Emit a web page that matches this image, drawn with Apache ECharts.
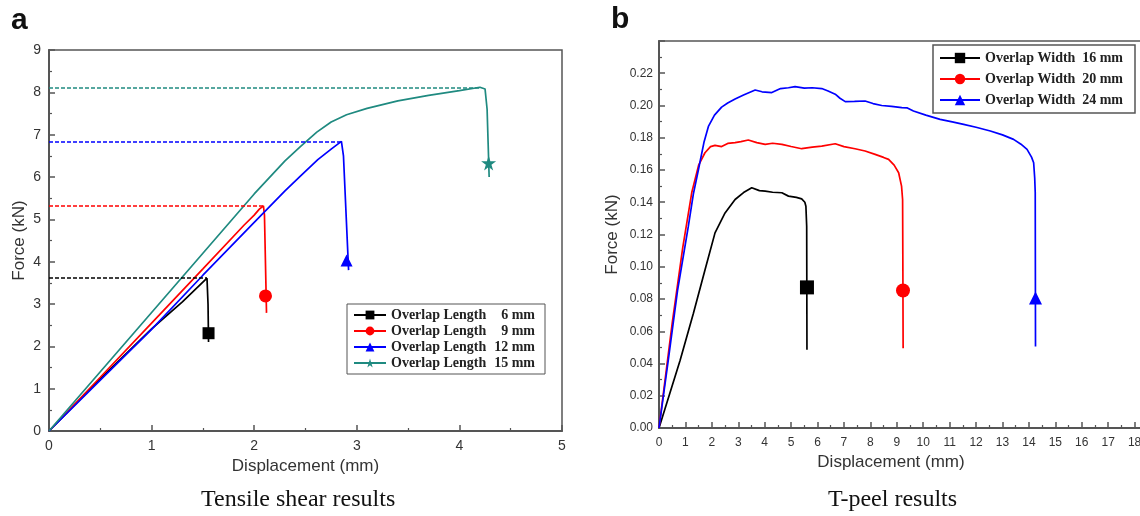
<!DOCTYPE html>
<html>
<head>
<meta charset="utf-8">
<script src="https://cdn.jsdelivr.net/npm/echarts@6/dist/echarts.min.js"></script>
<style>
  html, body { margin: 0; padding: 0; background: #fff; }
  #chart { width: 1140px; height: 516px; }
</style>
</head>
<body>
<div id="chart"></div>
<script>
// ---- data: tensile shear (a), [displacement mm, force kN]
const shear6 = [[0,0],[0.5,1.23],[1.0,2.41],[1.3,3.05],[1.54,3.61],[1.55,3.0],[1.555,2.1]];
const shear9 = [[0,0],[0.5,1.27],[1.0,2.55],[1.5,3.83],[1.9,4.86],[2.0,5.1],[2.05,5.24],[2.09,5.32],[2.10,5.1],[2.12,2.79]];
const shear12 = [[0,0],[0.5,1.2],[1.0,2.4],[1.5,3.68],[2.0,4.93],[2.3,5.67],[2.45,6.02],[2.62,6.41],[2.75,6.66],[2.85,6.84],[2.87,6.5],[2.92,3.8]];
const shear15 = [[0,0],[0.5,1.4],[1.0,2.8],[1.5,4.2],[2.0,5.6],[2.3,6.38],[2.45,6.72],[2.61,7.06],[2.75,7.3],[2.9,7.47],[3.1,7.62],[3.4,7.8],[3.7,7.93],[4.0,8.04],[4.2,8.12],[4.25,8.08],[4.27,7.6],[4.28,6.8],[4.29,6.0]];
const shearMarks = [[1.555,2.31],[2.11,3.19],[2.90,4.03],[4.285,6.33]];
const shearLabels = ['6 mm','9 mm','12 mm','15 mm'];

// ---- data: T-peel (b), [displacement mm, force kN]
const peel16 = [[0,0],[0.8,0.042],[1.3,0.071],[1.74,0.098],[2.12,0.121],[2.5,0.1334],[2.88,0.1417],[3.2,0.146],[3.51,0.149],[3.8,0.1472],[4.02,0.1469],[4.3,0.1462],[4.65,0.1459],[4.9,0.1438],[5.2,0.143],[5.4,0.1421],[5.52,0.14],[5.56,0.1375],[5.59,0.1251],[5.6,0.0485]];
const peel20 = [[0,0],[0.5,0.065],[0.9,0.112],[1.24,0.146],[1.5,0.163],[1.74,0.1707],[1.95,0.1745],[2.12,0.1753],[2.37,0.1745],[2.6,0.1765],[2.88,0.177],[3.1,0.1776],[3.38,0.1786],[3.7,0.177],[4.02,0.1759],[4.3,0.1766],[4.65,0.1759],[5.0,0.1746],[5.4,0.1732],[5.8,0.1742],[6.16,0.1748],[6.67,0.1763],[7.0,0.1745],[7.42,0.1732],[7.8,0.1718],[8.18,0.1697],[8.5,0.1678],[8.69,0.1666],[8.9,0.163],[9.07,0.1583],[9.18,0.15],[9.22,0.1417],[9.23,0.1],[9.24,0.0495]];
const peel24 = [[0,0],[0.35,0.042],[0.7,0.085],[1.11,0.125],[1.3,0.145],[1.49,0.16],[1.7,0.177],[1.87,0.187],[2.1,0.194],[2.37,0.199],[2.6,0.2015],[2.88,0.204],[3.2,0.2065],[3.64,0.2096],[3.9,0.2085],[4.27,0.208],[4.6,0.2105],[4.9,0.211],[5.15,0.2117],[5.5,0.2108],[5.8,0.211],[6.16,0.2105],[6.4,0.209],[6.67,0.207],[6.85,0.2045],[7.05,0.2024],[7.4,0.2025],[7.8,0.2028],[8.1,0.2012],[8.43,0.2],[8.8,0.1995],[9.19,0.1987],[9.4,0.1985],[9.63,0.1966],[10.1,0.194],[10.64,0.1914],[11.1,0.1898],[11.53,0.1883],[12.0,0.1865],[12.54,0.1842],[13.0,0.1818],[13.42,0.179],[13.7,0.176],[13.93,0.1728],[14.1,0.168],[14.18,0.1645],[14.22,0.155],[14.24,0.146],[14.25,0.0505]];
const peelMarks = [[5.6,0.0872],[9.235,0.0853],[14.25,0.0806]];
const peelLabels = ['16 mm','20 mm','24 mm'];

const starPath = 'path://M50,0 L61,35 L98,35 L68,57 L79,92 L50,70 L21,92 L32,57 L2,35 L39,35 Z';
const axisColor = '#555';
const sans = 'Liberation Sans, Arial, sans-serif';
const serif = 'Liberation Serif, Times New Roman, serif';

function peakOf(data) {
    return data.reduce((a, b) => (b[1] > a[1] ? b : a));
}

function makeSeries(name, data, mark, color, symbol, size, axisIdx, dashed) {
    const s = {
        name: name,
        type: 'line',
        xAxisIndex: axisIdx,
        yAxisIndex: axisIdx,
        data: data,
        symbol: symbol,
        symbolSize: 0,
        showSymbol: false,
        smooth: false,
        lineStyle: { color: color, width: 1.7 },
        itemStyle: { color: color },
        markPoint: {
            symbol: symbol,
            symbolSize: size,
            silent: true,
            label: { show: false },
            itemStyle: { color: color },
            data: [{ coord: mark }]
        }
    };
    if (dashed) {
        const p = peakOf(data);
        s.markLine = {
            silent: true,
            symbol: ['none', 'none'],
            label: { show: false },
            lineStyle: { color: color, type: [4, 2], width: 1.6 },
            data: [[{ coord: [0, p[1]] }, { coord: [p[0], p[1]] }]]
        };
    }
    return s;
}

function valueAxis(idx, min, max, interval, name, gap, extra) {
    return Object.assign({
        type: 'value',
        gridIndex: idx,
        min: min,
        max: max,
        interval: interval,
        name: name,
        nameLocation: 'middle',
        nameGap: gap,
        nameTextStyle: { color: '#333', fontSize: 17, fontFamily: sans },
        axisLine: { show: true, onZero: false, lineStyle: { color: axisColor, width: 2 } },
        axisTick: { show: true, inside: true, length: 6, lineStyle: { color: axisColor, width: 1.5 } },
        minorTick: { show: true, splitNumber: 2, length: 3, lineStyle: { color: axisColor, width: 1.2 } },
        splitLine: { show: false },
        axisLabel: { color: '#333', fontSize: 14, fontFamily: sans, margin: 8 }
    }, extra || {});
}

const shearNames = shearLabels.map(l => 'Overlap Length ' + l);
const peelNames = peelLabels.map(l => 'Overlap Width ' + l);

const chart = echarts.init(document.getElementById('chart'));
const option = {
    animation: false,
    backgroundColor: '#fff',
    grid: [
        { left: 49, top: 50, width: 513, height: 381, show: true, borderColor: axisColor, borderWidth: 1.5, outerBoundsMode: 'none' },
        { left: 659, top: 41, width: 502, height: 387, show: true, borderColor: axisColor, borderWidth: 1.5, outerBoundsMode: 'none' }
    ],
    xAxis: [
        valueAxis(0, 0, 5, 1, 'Displacement (mm)', 22),
        valueAxis(1, 0, 19, 1, 'Displacement (mm)', 26, {
            nameTextStyle: { color: '#333', fontSize: 17, fontFamily: sans, padding: [0, 38, 0, 0] },
            axisLabel: { color: '#333', fontSize: 12, fontFamily: sans, margin: 9 }
        })
    ],
    yAxis: [
        valueAxis(0, 0, 9, 1, 'Force (kN)', 21),
        valueAxis(1, 0, 0.24, 0.02, 'Force (kN)', 38, {
            axisLabel: { color: '#333', fontSize: 12, fontFamily: sans, margin: 6, showMaxLabel: false,
                formatter: v => v.toFixed(2) }
        })
    ],
    legend: [
        {
            data: shearNames,
            orient: 'vertical',
            left: 347, top: 304,
            padding: [4, 10, 4, 6],
            itemGap: 2,
            itemWidth: 32, itemHeight: 11,
            borderColor: axisColor, borderWidth: 1,
            selectedMode: false,
            formatter: name => '{a|Overlap Length}{b|' + name.replace('Overlap Length ', '') + '}',
            textStyle: {
                rich: {
                    a: { fontFamily: serif, fontWeight: 'bold', fontSize: 14, color: '#222', width: 100 },
                    b: { fontFamily: serif, fontWeight: 'bold', fontSize: 14, color: '#222', width: 44, align: 'right' }
                }
            }
        },
        {
            data: peelNames,
            orient: 'vertical',
            left: 933, top: 45,
            padding: [6, 12, 6, 6],
            itemGap: 7,
            itemWidth: 40, itemHeight: 13,
            borderColor: axisColor, borderWidth: 1.5,
            selectedMode: false,
            formatter: name => '{a|Overlap Width}{b|' + name.replace('Overlap Width ', '') + '}',
            textStyle: {
                rich: {
                    a: { fontFamily: serif, fontWeight: 'bold', fontSize: 14, color: '#222', width: 96 },
                    b: { fontFamily: serif, fontWeight: 'bold', fontSize: 14, color: '#222', width: 42, align: 'right' }
                }
            }
        }
    ],
    graphic: [
        { type: 'text', left: 11, top: 6, style: { text: 'a', font: 'bold 30px ' + sans, fill: '#111' } },
        { type: 'text', left: 611, top: 5, style: { text: 'b', font: 'bold 30px ' + sans, fill: '#111' } },
        { type: 'text', left: 201, top: 488, style: { text: 'Tensile shear results', font: '24px ' + serif, fill: '#111' } },
        { type: 'text', left: 828, top: 488, style: { text: 'T-peel results', font: '24px ' + serif, fill: '#111' } }
    ],
    series: [
        makeSeries(shearNames[0], shear6, shearMarks[0], '#000000', 'rect', 12, 0, true),
        makeSeries(shearNames[1], shear9, shearMarks[1], '#ff0000', 'circle', 13, 0, true),
        makeSeries(shearNames[2], shear12, shearMarks[2], '#0000ff', 'triangle', 12, 0, true),
        makeSeries(shearNames[3], shear15, shearMarks[3], '#1f8a80', starPath, 15, 0, true),
        makeSeries(peelNames[0], peel16, peelMarks[0], '#000000', 'rect', 14, 1, false),
        makeSeries(peelNames[1], peel20, peelMarks[1], '#ff0000', 'circle', 14, 1, false),
        makeSeries(peelNames[2], peel24, peelMarks[2], '#0000ff', 'triangle', 13, 1, false)
    ]
};
chart.setOption(option);
window.addEventListener('resize', () => chart.resize());
</script>
</body>
</html>
